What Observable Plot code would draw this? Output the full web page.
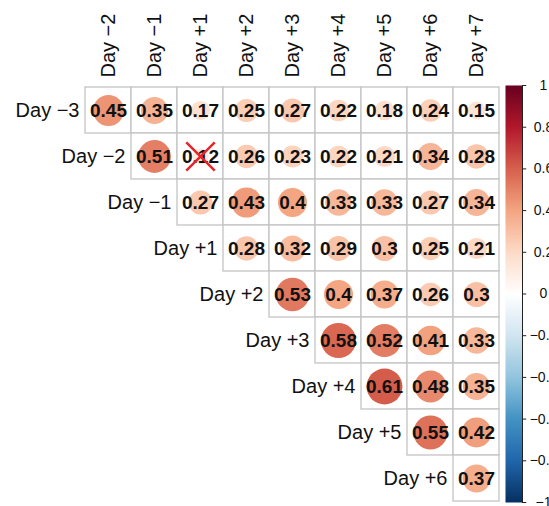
<!DOCTYPE html>
<html>
<head>
<meta charset="utf-8">
<script src="https://cdn.jsdelivr.net/npm/d3@7"></script>
<script src="https://cdn.jsdelivr.net/npm/@observablehq/plot@0.6"></script>
<style>
  html, body { margin: 0; padding: 0; background: #fff; }
  body { width: 549px; height: 506px; overflow: hidden; position: relative; font-family: "Liberation Sans", Arial, sans-serif; }
  #main, #bar { position: absolute; top: 0; }
  #main { left: 0; width: 549px; }
  #bar { left: 500px; width: 100px; }
  #bar svg, #main svg { max-width: none !important; }
</style>
</head>
<body>
<div id="main"></div>
<div id="bar"></div>
<script>
const colLabels = ["Day \u22122", "Day \u22121", "Day +1", "Day +2", "Day +3", "Day +4", "Day +5", "Day +6", "Day +7"];
const rowLabels = ["Day \u22123", "Day \u22122", "Day \u22121", "Day +1", "Day +2", "Day +3", "Day +4", "Day +5", "Day +6"];

// upper-triangle correlations, row by row (row i starts at column i)
const rowDayM3 = [0.45, 0.35, 0.17, 0.25, 0.27, 0.22, 0.18, 0.24, 0.15];
const rowDayM2 = [0.51, 0.12, 0.26, 0.23, 0.22, 0.21, 0.34, 0.28];
const rowDayM1 = [0.27, 0.43, 0.4, 0.33, 0.33, 0.27, 0.34];
const rowDayP1 = [0.28, 0.32, 0.29, 0.3, 0.25, 0.21];
const rowDayP2 = [0.53, 0.4, 0.37, 0.26, 0.3];
const rowDayP3 = [0.58, 0.52, 0.41, 0.33];
const rowDayP4 = [0.61, 0.48, 0.35];
const rowDayP5 = [0.55, 0.42];
const rowDayP6 = [0.37];
const rowValues = [rowDayM3, rowDayM2, rowDayM1, rowDayP1, rowDayP2, rowDayP3, rowDayP4, rowDayP5, rowDayP6];

// non-significant cells (crossed out)
const insignificant = [{row: "Day \u22122", col: "Day +1"}];

const colorbarTicks = [1, 0.8, 0.6, 0.4, 0.2, 0, -0.2, -0.4, -0.6, -0.8, -1];
const paletteStops = [-1, -0.8, -0.6, -0.4, -0.2, 0, 0.2, 0.4, 0.6, 0.8, 1];
const paletteColors = ["#053061", "#2166AC", "#4393C3", "#92C5DE", "#D1E5F0", "#FFFFFF", "#FDDBC7", "#F4A582", "#D6604D", "#B2182B", "#67001F"];

const data = [];
rowValues.forEach((vals, i) => {
  vals.forEach((v, k) => data.push({row: rowLabels[i], col: colLabels[i + k], value: v}));
});
const rowStarts = rowLabels.map((r, i) => ({row: r, col: colLabels[i]}));

const colorScale = {type: "linear", domain: paletteStops, range: paletteColors, interpolate: "rgb"};
const FONT = "'Liberation Sans', Arial, sans-serif";

const main = Plot.plot({
  width: 549,
  height: 506,
  marginLeft: 83,
  marginRight: 49,
  marginTop: 87,
  marginBottom: 5,
  style: {fontFamily: FONT, fontSize: "20px", background: "transparent", overflow: "visible"},
  x: {domain: colLabels, padding: 0, axis: null},
  y: {domain: rowLabels, padding: 0, axis: null},
  color: colorScale,
  r: {type: "sqrt", domain: [0, 1], range: [0, 23]},
  marks: [
    Plot.cell(data, {x: "col", y: "row", fill: "white", stroke: "#c4c4c4", strokeWidth: 1.3}),
    Plot.dot(data, {x: "col", y: "row", r: d => Math.abs(d.value), fill: "value", stroke: "none"}),
    Plot.text(data, {x: "col", y: "row", text: d => String(d.value), fontWeight: "bold", fontSize: 19, fill: "#111"}),
    Plot.dot(insignificant, {x: "col", y: "row", symbol: "times", r: 13, stroke: "#e8242b", strokeWidth: 2.5}),
    Plot.text(rowStarts, {x: "col", y: "row", text: "row", textAnchor: "end", dx: -29, fontSize: 20, fill: "#111"}),
    Plot.axisX({anchor: "top", tickSize: 0, tickPadding: 10, tickRotate: -90, fontSize: 20, label: null, fill: "#111"})
  ]
});
document.getElementById("main").append(main);

const bar = Plot.plot({
  width: 100,
  height: 506,
  marginLeft: 5,
  marginRight: 78,
  marginTop: 85,
  marginBottom: 4,
  style: {fontFamily: FONT, fontSize: "14px", background: "transparent", overflow: "visible"},
  x: {domain: [0, 1], axis: null},
  y: {domain: [-1, 1], axis: null},
  color: colorScale,
  marks: [
    Plot.raster({fill: (x, y) => y, x1: 0, x2: 1, y1: -1, y2: 1, width: 1, height: 400, imageRendering: "auto"}),
    Plot.ruleX([1], {y1: -1, y2: 1, stroke: "#222", strokeWidth: 1}),
    Plot.ruleY(colorbarTicks, {y: d => d, x1: 1, x2: 1.25, stroke: "#222"}),
    Plot.text(colorbarTicks, {y: d => d, x: 1, dx: 21, text: d => d < 0 ? "\u2212" + Math.abs(d) : String(d), textAnchor: "middle", fontSize: 14, fill: "#111"})
  ]
});
document.getElementById("bar").append(bar);
</script>
</body>
</html>
